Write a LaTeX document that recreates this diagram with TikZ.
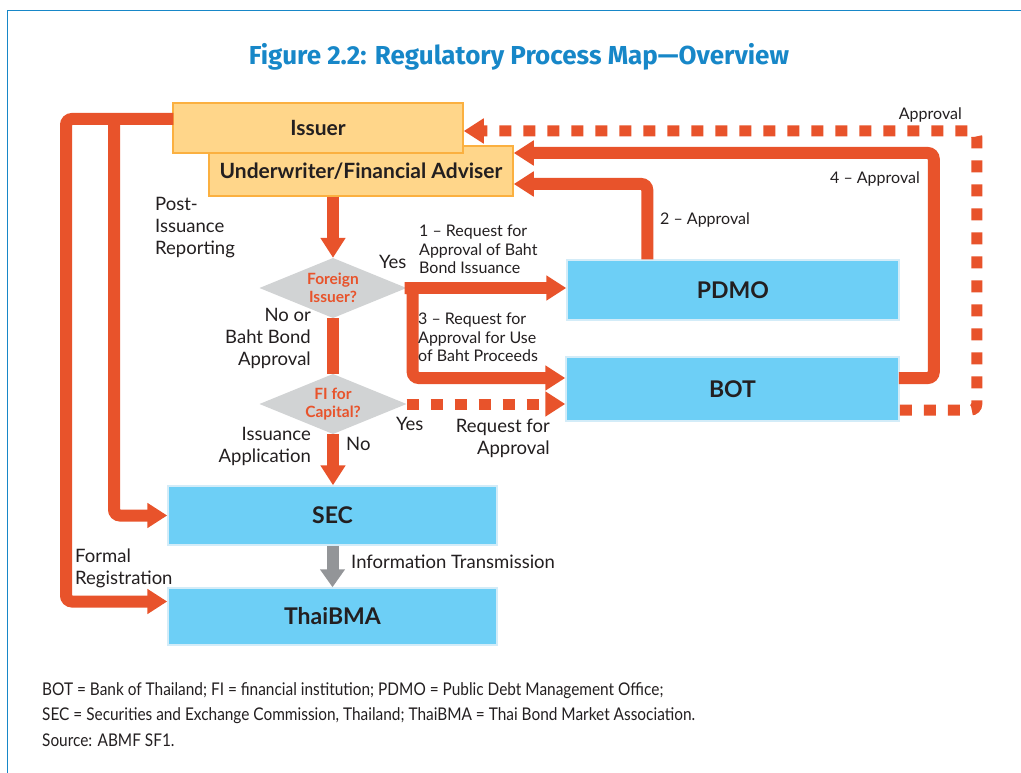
\documentclass[tikz,border=0pt]{standalone}
\usepackage{fontspec}
\setmainfont{Lato}
\newfontfamily\titlefont{Fira Sans}
\newfontfamily\notefont[FakeStretch=0.88]{Lato}
\usetikzlibrary{arrows.meta,calc}
\definecolor{orng}{HTML}{E8532B}
\definecolor{ofill}{HTML}{FFD68A}
\definecolor{oborder}{HTML}{FBB040}
\definecolor{bfill}{HTML}{6DCFF6}
\definecolor{bborder}{HTML}{D3ECF8}
\definecolor{dgrey}{HTML}{D1D3D4}
\definecolor{agrey}{HTML}{939598}
\definecolor{tblue}{HTML}{1787C8}
\definecolor{txt}{HTML}{231F20}
\tikzset{
  ibox/.style={draw=oborder, line width=1.5pt, fill=ofill, inner sep=0pt, text=txt, font=\bfseries\fontsize{21}{24}\selectfont},
  bbox/.style={draw=bborder, line width=1.5pt, fill=bfill, inner sep=0pt, minimum width=331pt, text=txt, font=\bfseries\fontsize{23}{26}\selectfont},
  dia/.style={minimum width=147pt, minimum height=60pt, inner sep=0pt, align=center, text=orng,
    font=\bfseries\fontsize{15.5}{18}\selectfont,
    path picture={\fill[dgrey] (path picture bounding box.north) -- (path picture bounding box.east) -- (path picture bounding box.south) -- (path picture bounding box.west) -- cycle;}},
  oline/.style={draw=orng, line width=12pt},
  oarrow/.style={oline, -{Triangle[width=24pt,length=20pt]}},
  odash/.style={draw=orng, line width=11pt, dash pattern=on 12pt off 12pt, -{Triangle[width=24pt,length=20pt]}},
  lbl/.style={text=txt, inner sep=0pt, font=\fontsize{18.5}{22}\selectfont},
  slbl/.style={text=txt, inner sep=0pt, font=\fontsize{16}{18.5}\selectfont},
}
\begin{document}
\begin{tikzpicture}[x=1pt,y=-1pt]
\useasboundingbox (0,0) rectangle (1021,773);
\fill[white] (0,0) rectangle (1021,773);
\draw[tblue, line width=1.5pt] (7.5,773) -- (7.5,10.5) -- (1021,10.5);
\node[text=tblue, font=\titlefont\bfseries\fontsize{26}{28}\selectfont] (title) at (519,57) {Figure 2.2: Regulatory Process Map—Overview};

% boxes
\node[ibox, minimum width=304pt, minimum height=50pt] (uw) at (361,171) {Underwriter/Financial Adviser};
\node[ibox, minimum width=290pt, minimum height=50pt] (issuer) at (318,128) {Issuer};
\node[bbox, minimum width=332pt, minimum height=60pt] (pdmo) at (733,290) {PDMO};
\node[bbox, minimum width=333pt, minimum height=64pt] (bot) at (732.5,389) {BOT};
\node[bbox, minimum width=329pt, minimum height=59pt] (sec) at (332.5,515.5) {SEC};
\node[bbox, minimum width=329pt, minimum height=57pt] (bma) at (332.5,616.5) {ThaiBMA};
\node[dia] (fi1) at (333,288) {Foreign\\Issuer?};
\node[dia] (fi2) at (333,404) {FI for\\Capital?};

% connectors
\draw[oarrow] (uw.south -| fi1.north) -- (fi1.north);
\draw[oline] (fi1.south) -- (fi2.north);
\draw[oarrow] (fi2.south) -- (sec.north -| fi2.south);
\draw[oarrow] (fi1.east) -- (fi1.east -| pdmo.west);
\draw[oarrow, rounded corners=6pt] ($(fi1.east)+(-2,0)$) -- ++(8,0) |- ($(bot.west)+(0,-11)$);
\draw[odash] (fi2.east) -- (fi2.east -| bot.west);
\draw[oarrow, rounded corners=6pt] ($(pdmo.north west)+(81,0)$) |- ($(uw.east)+(0,13)$);
\draw[oarrow, rounded corners=6pt] ($(bot.east)+(-1,-11)$) -- ++(35,0) |- ($(uw.east)+(0,-18)$);
\draw[odash, rounded corners=6pt] ($(bot.east)+(0,21)$) -- ++(77,0) |- ($(issuer.east)+(0,3)$);
\coordinate (lj) at (114,114);
\draw[oarrow, rounded corners=6pt] ($(issuer.west)+(1,-9)$) -- (66,119) |- ($(bma.west)+(0,-15)$);
\draw[oarrow, rounded corners=6pt] (lj) |- (sec.west);
\draw[draw=agrey, line width=12pt, -{Triangle[width=24pt,length=18pt]}] (sec.south) -- (bma.north);

% labels
\node[lbl, align=left, anchor=north west] (l1) at (155,197) {Post-\\Issuance\\Reporting};
\node[lbl, anchor=base west] (l2) at (379,268) {Yes};
\node[slbl, align=left, anchor=north west] (l3) at (419,225) {1 – Request for\\Approval of Baht\\Bond Issuance};
\node[slbl, anchor=base west] (l4) at (660,225) {2 – Approval};
\node[slbl, anchor=base east] (l5) at (920,184) {4 – Approval};
\node[slbl, anchor=base east] (l6) at (962,120) {Approval};
\node[lbl, align=right, anchor=north east] (l7) at (311,308) {No or\\Baht Bond\\Approval};
\node[slbl, align=left, anchor=north west] (l8) at (418,313) {3 – Request for\\Approval for Use\\of Baht Proceeds};
\node[lbl, anchor=base west] (l9) at (396,430) {Yes};
\node[lbl, align=right, anchor=north east] (l10) at (550,419) {Request for\\Approval};
\node[lbl, align=right, anchor=north east] (l11) at (311,427) {Issuance\\Application};
\node[lbl, anchor=base west] (l12) at (346,450) {No};
\node[lbl, anchor=base west] (l13) at (351,568) {Information Transmission};
\node[lbl, align=left, anchor=north west] (l14) at (75,549) {Formal\\Registration};

\node[text=txt, align=left, anchor=north west, inner sep=0pt, font=\notefont\fontsize{17.5}{25.5}\selectfont] (note) at (42,682) {BOT = Bank of Thailand; FI = financial institution; PDMO = Public Debt Management Office;\\SEC = Securities and Exchange Commission, Thailand; ThaiBMA = Thai Bond Market Association.\\Source: ABMF SF1.};
\end{tikzpicture}
\end{document}
